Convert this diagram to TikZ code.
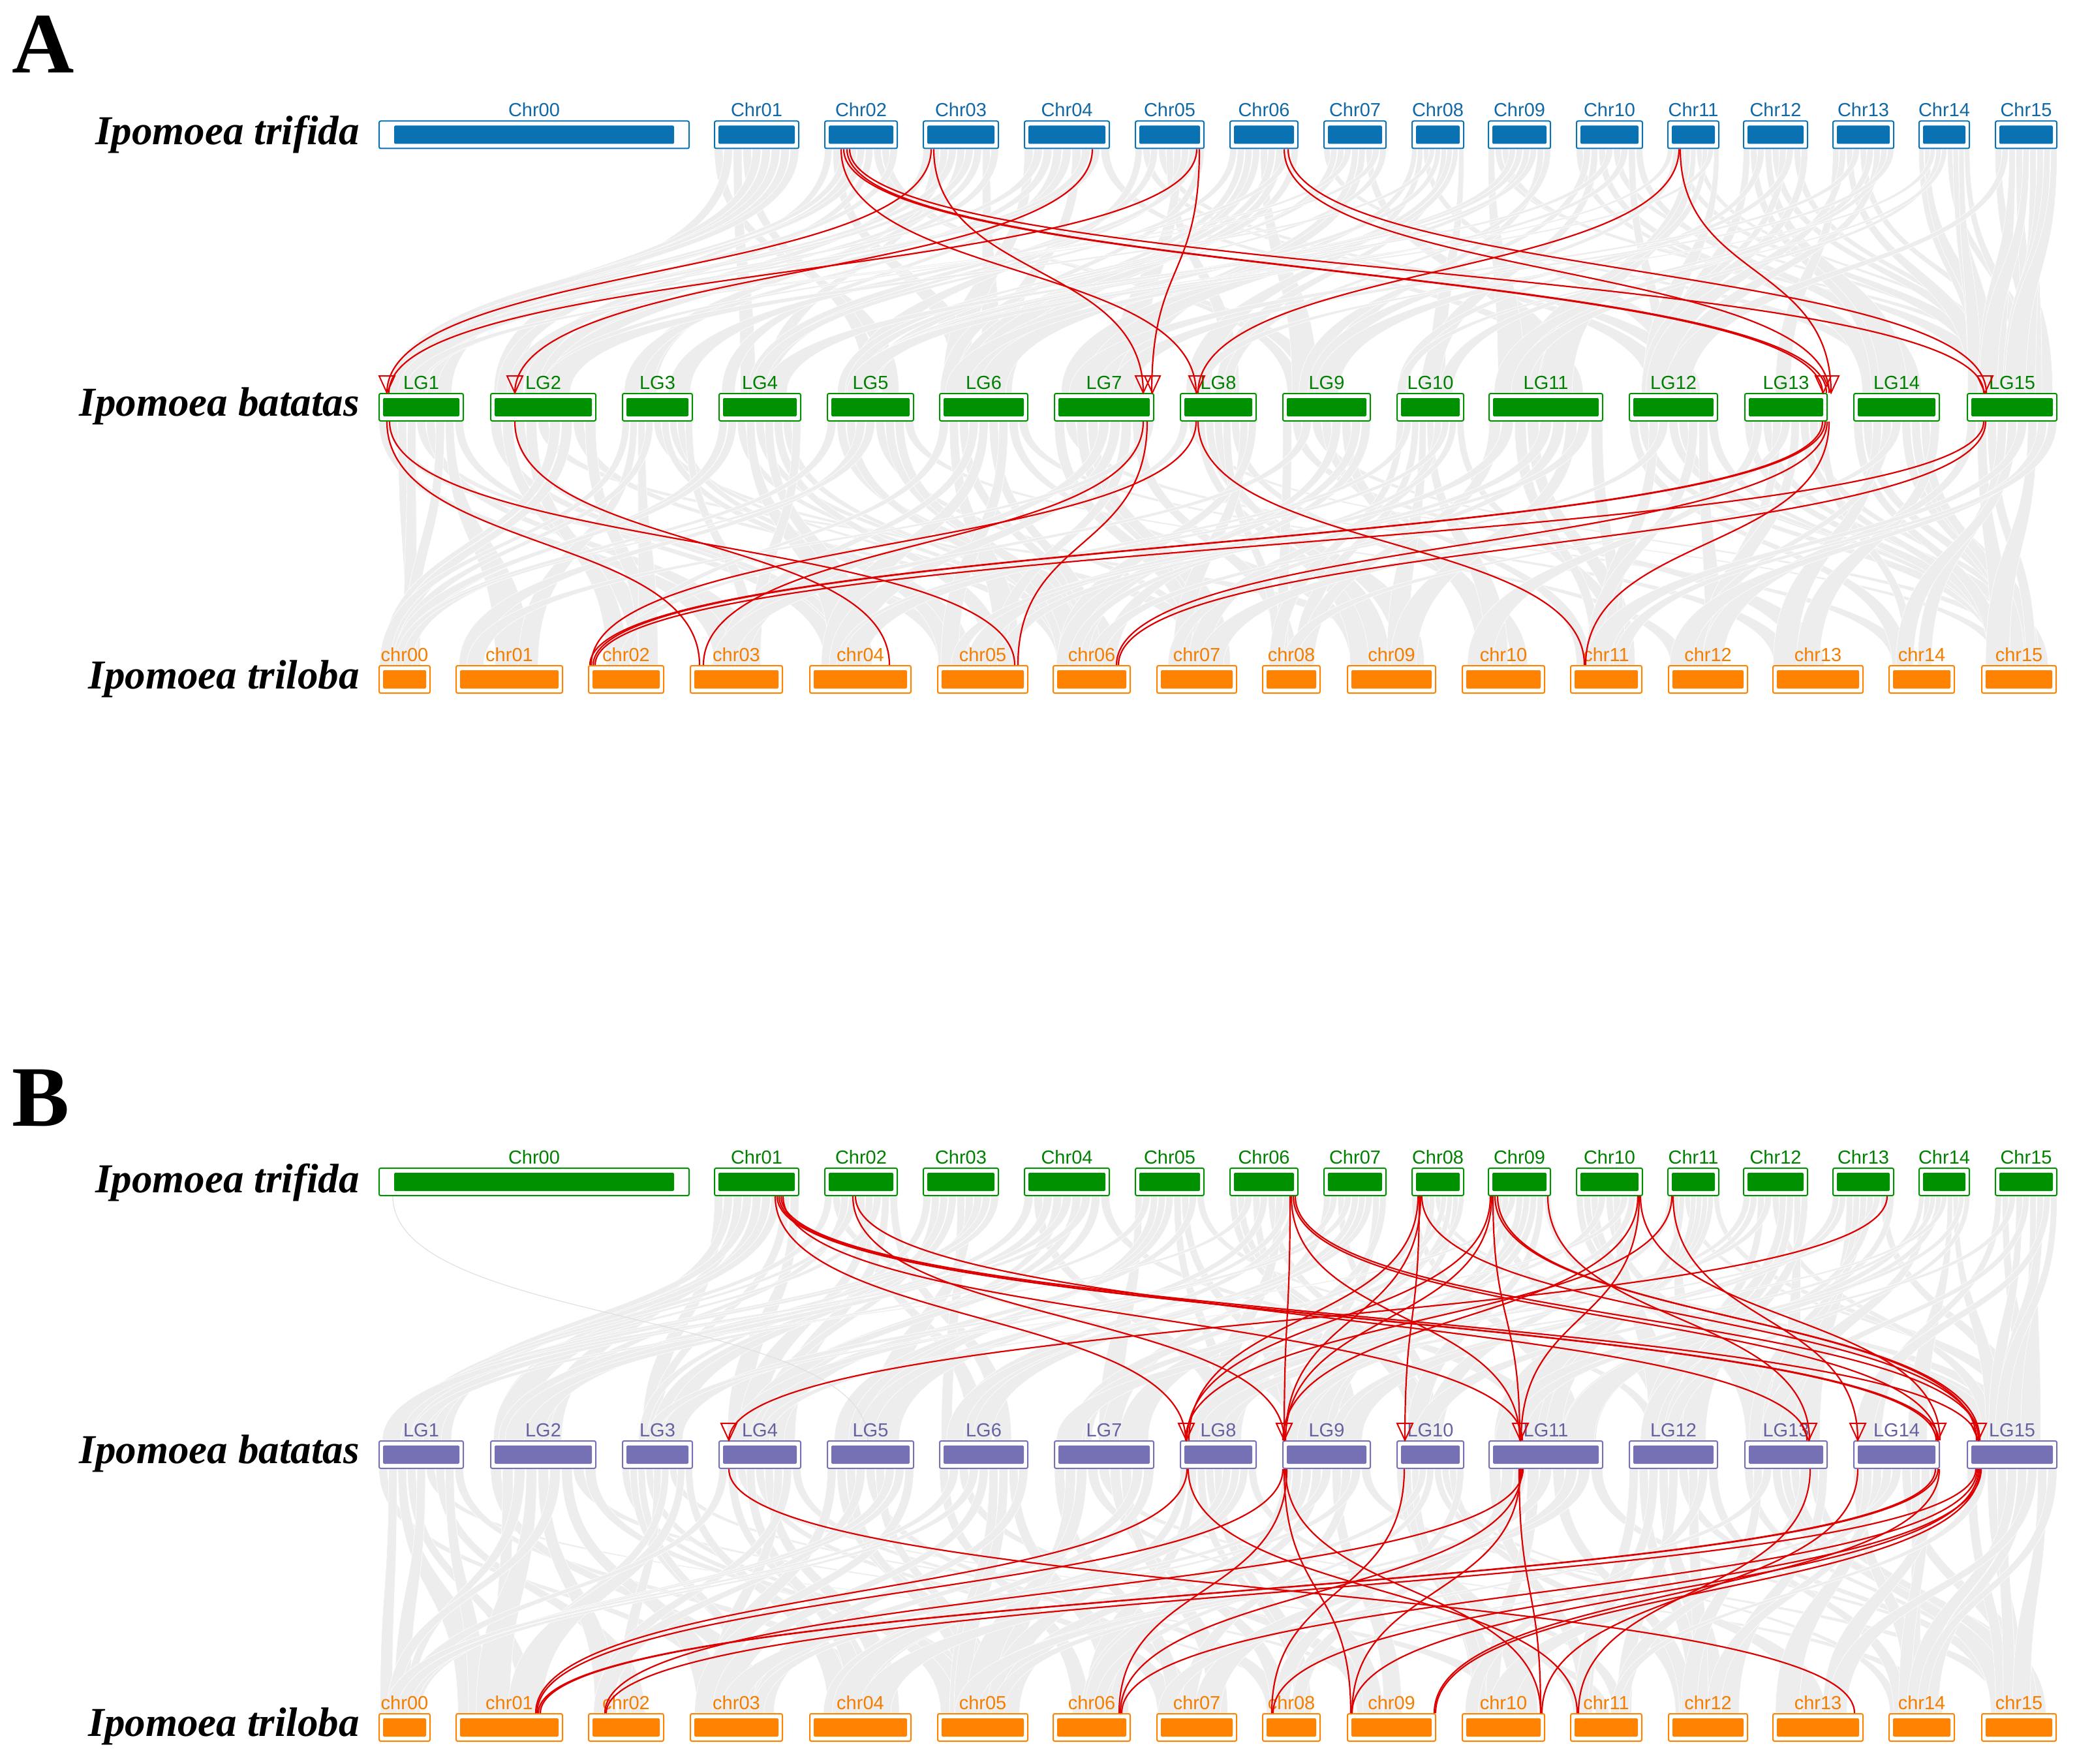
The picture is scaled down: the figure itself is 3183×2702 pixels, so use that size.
\documentclass[tikz,border=0pt]{standalone}
\usepackage{fontspec}
\setmainfont{Liberation Serif}
\newfontfamily\lblfont{Liberation Sans}
\usetikzlibrary{calc}
\pgfdeclarelayer{bg}
\pgfsetlayers{bg,main}
\definecolor{cblue}{RGB}{10,114,178}
\definecolor{cbluel}{RGB}{16,104,165}
\definecolor{cgreen}{RGB}{0,145,0}
\definecolor{cgreenl}{RGB}{0,128,0}
\definecolor{corange}{RGB}{255,130,0}
\definecolor{corangel}{RGB}{245,125,0}
\definecolor{cpurple}{RGB}{118,112,180}
\definecolor{cpurplel}{RGB}{100,98,160}
\definecolor{cred}{RGB}{222,0,0}
\definecolor{cgray}{RGB}{237,237,237}
\tikzset{
 chrbox/.style={draw=#1, fill=white, line width=1pt, minimum height=21pt, inner sep=0pt, rounded corners=1.2pt},
 lbl/.style={font=\lblfont\fontsize{14.5}{14.5}\selectfont, inner sep=0pt},
 species/.style={font=\fontsize{31.5}{31.5}\selectfont\bfseries\itshape, inner sep=0pt},
 panel/.style={font=\fontsize{66}{66}\selectfont\bfseries, inner sep=0pt},
 redlink/.style={draw=cred, line width=1.1pt},
 redtri/.style={draw=cred, line width=1pt, line join=miter},
 gribbon/.style={fill=cgray, draw=white, line width=0.3pt},
}
\def\trifidalist{0/581/1056/Chr00/24, 1/1095/1224/Chr01/7, 2/1264/1375/Chr02/7, 3/1415/1530/Chr03/7, 4/1570/1700/Chr04/7, 5/1740/1845/Chr05/7, 6/1885/1989/Chr06/7, 7/2029/2124/Chr07/7, 8/2164/2243/Chr08/7, 9/2281/2376/Chr09/7, 10/2416/2517/Chr10/7, 11/2556/2634/Chr11/7, 12/2672/2770/Chr12/7, 13/2809/2902/Chr13/7, 14/2941/3018/Chr14/7, 15/3058/3152/Chr15/7}
\def\batataslist{1/581/710/LG1/7, 2/752/913/LG2/7, 3/954/1061/LG3/7, 4/1102/1227/LG4/7, 5/1268/1400/LG5/7, 6/1440/1575/LG6/7, 7/1616/1768/LG7/7, 8/1809/1925/LG8/7, 9/1966/2100/LG9/7, 10/2141/2243/LG10/7, 11/2282/2456/LG11/7, 12/2497/2632/LG12/7, 13/2674/2800/LG13/7, 14/2841/2972/LG14/7, 15/3015/3152/LG15/7}
\def\trilobalist{0/581/659/chr00/7, 1/699/862/chr01/7, 2/902/1017/chr02/7, 3/1058/1199/chr03/7, 4/1241/1396/chr04/7, 5/1437/1575/chr05/7, 6/1614/1732/chr06/7, 7/1773/1895/chr07/7, 8/1935/2023/chr08/7, 9/2065/2200/chr09/7, 10/2241/2367/chr10/7, 11/2407/2516/chr11/7, 12/2557/2678/chr12/7, 13/2717/2855/chr13/7, 14/2895/2995/chr14/7, 15/3037/3151/chr15/7}
% row of chromosome boxes: prefix, y centre, box colour, label colour, list
\newcommand\chrrow[5]{%
 \foreach \ci/\xa/\xb/\nm/\ins in #5{%
  \node[chrbox=#3, minimum width={(\xb-\xa)*0.5pt}] (#1\ci) at ({(\xa+\xb)/2},#2) {};
  \fill[#3, rounded corners=0.8pt] ($(#1\ci.north west)+(\ins,8)$) rectangle ($(#1\ci.south east)+(-\ins,-8)$);
  \node[lbl, text=#4, anchor=base] (#1\ci lab) at ($(#1\ci.north)+(0,-6)$) {\nm};
 }%
}
% grey synteny ribbon
\newcommand\ribbon[6]{%
 \path[gribbon] ($(#1.south west)!#2!(#1.south east)$) .. controls +(0,200) and +(0,-200) .. ($(#4.north west)!#5!(#4.north east)$) -- ($(#4.north west)!#6!(#4.north east)$) .. controls +(0,-200) and +(0,200) .. ($(#1.south west)!#3!(#1.south east)$) -- cycle;}
\newcommand\gsec[4]{%
 \pgfmathsetseed{#4}%
 \foreach \k in {1,...,15}{%
  \foreach \s in {0,...,8}{%
   \pgfmathsetmacro\fa{\s/9+0.006}%
   \pgfmathsetmacro\fb{(\s+1)/9-0.006}%
   \pgfmathrandominteger{\rv}{0}{13}%
   \pgfmathtruncatemacro\tg{\k+(\rv==0)*(-3)+(\rv==1)*(-1)+(\rv==2)*1+(\rv==3)*4+(\rv==4)*(-6)+(\rv==5)*2+(\rv==6)*(-2)+(\rv==7)*7+(\rv==8)*(-4)+(\rv==9)*3+(\rv==10)*(-1)}%
   \pgfmathtruncatemacro\tg{max(#3,min(15,\tg))}%
   \pgfmathsetmacro\ga{0.01+rnd*0.66}%
   \pgfmathsetmacro\gb{\ga+0.12+rnd*0.2}%
   \ribbon{#1\k}{\fa}{\fb}{#2\tg}{\ga}{\gb}%
  }%
 }%
}
% red link: source node, x, target node, x (pixels)
\newcommand\rl[4]{\draw[redlink] let \p1=(#1.south), \p2=(#3.north) in ({#2*0.5pt},\y1) .. controls +(0,200) and +(0,-200) .. ({#4*0.5pt},\y2);}
\newcommand\tri[2]{\draw[redtri] let \p1=(#1.north) in ({#2*0.5pt},\y1) -- ++(-12,-26) -- ++(24,0) -- cycle;}

\begin{document}
\begin{tikzpicture}[x=0.5pt, y=-0.5pt]
\useasboundingbox (0,0) rectangle (3183,2702);

% ---------- Panel A ----------
\node[panel, anchor=base west] (pA) at (18,112) {A};
\node[species, anchor=base east] (sA1) at (551,222) {Ipomoea trifida};
\node[species, anchor=base east] (sA2) at (551,637) {Ipomoea batatas};
\node[species, anchor=base east] (sA3) at (551,1055) {Ipomoea triloba};
\chrrow{At}{206.5}{cblue}{cbluel}{\trifidalist}
\chrrow{Ab}{624}{cgreen}{cgreenl}{\batataslist}
\chrrow{Ac}{1041}{corange}{corangel}{\trilobalist}

% ---------- Panel B ----------
\node[panel, anchor=base west] (pB) at (18,1725) {B};
\node[species, anchor=base east] (sB1) at (551,1827) {Ipomoea trifida};
\node[species, anchor=base east] (sB2) at (551,2242) {Ipomoea batatas};
\node[species, anchor=base east] (sB3) at (551,2660) {Ipomoea triloba};
\chrrow{Bt}{1811}{cgreen}{cgreenl}{\trifidalist}
\chrrow{Bb}{2229}{cpurple}{cpurplel}{\batataslist}
\chrrow{Bc}{2647}{corange}{corangel}{\trilobalist}

\begin{pgfonlayer}{bg}
\gsec{At}{Ab}{1}{11}
\gsec{Ab}{Ac}{0}{23}
\gsec{Bt}{Bb}{1}{37}
\gsec{Bb}{Bc}{0}{51}
\draw[black!12, line width=0.6pt] let \p1=(Bt0.south), \p2=(Bb5.north) in ({602*0.5pt},\y1) .. controls +(0,200) and +(0,-200) .. ({1330*0.5pt},\y2);
\end{pgfonlayer}

% ---------- red links, panel A ----------
\rl{At2}{1289}{Ab8}{1833}
\rl{At2}{1293}{Ab13}{2793}
\rl{At2}{1298}{Ab13}{2799}
\rl{At2}{1302}{Ab15}{3040}
\rl{At3}{1427}{Ab1}{593}
\rl{At3}{1431}{Ab7}{1752}
\rl{At4}{1674}{Ab2}{789}
\rl{At5}{1834}{Ab1}{596}
\rl{At5}{1838}{Ab7}{1765}
\rl{At6}{1968}{Ab13}{2803}
\rl{At6}{1974}{Ab15}{3044}
\rl{At11}{2573}{Ab8}{1836}
\rl{At11}{2575}{Ab13}{2806}
\tri{Ab1}{593}
\tri{Ab2}{789}
\tri{Ab7}{1752}
\tri{Ab7}{1766}
\tri{Ab8}{1834}
\tri{Ab13}{2794}
\tri{Ab13}{2806}
\tri{Ab15}{3042}

\rl{Ab1}{593}{Ac3}{1072}
\rl{Ab1}{597}{Ac5}{1555}
\rl{Ab2}{789}{Ac4}{1363}
\rl{Ab7}{1752}{Ac3}{1078}
\rl{Ab7}{1758}{Ac5}{1560}
\rl{Ab8}{1833}{Ac2}{906}
\rl{Ab8}{1836}{Ac11}{2428}
\rl{Ab13}{2793}{Ac2}{904}
\rl{Ab13}{2797}{Ac2}{909}
\rl{Ab13}{2800}{Ac6}{1711}
\rl{Ab13}{2803}{Ac11}{2430}
\rl{Ab15}{3040}{Ac2}{912}
\rl{Ab15}{3043}{Ac6}{1714}

% ---------- red links, panel B ----------
\rl{Bt1}{1188}{Bb8}{1817}
\rl{Bt1}{1191}{Bb14}{2967}
\rl{Bt1}{1194}{Bb14}{2971}
\rl{Bt1}{1197}{Bb15}{3030}
\rl{Bt1}{1200}{Bb11}{2333}
\rl{Bt2}{1307}{Bb9}{1968}
\rl{Bt2}{1311}{Bb13}{2769}
\rl{Bt6}{1977}{Bb9}{1968}
\rl{Bt6}{1979}{Bb11}{2329}
\rl{Bt6}{1982}{Bb14}{2969}
\rl{Bt6}{1985}{Bb15}{3034}
\rl{Bt8}{2173}{Bb8}{1822}
\rl{Bt8}{2175}{Bb10}{2153}
\rl{Bt8}{2177}{Bb9}{1970}
\rl{Bt8}{2179}{Bb15}{3032}
\rl{Bt9}{2284}{Bb8}{1819}
\rl{Bt9}{2286}{Bb9}{1970}
\rl{Bt9}{2288}{Bb11}{2329}
\rl{Bt9}{2291}{Bb15}{3034}
\rl{Bt9}{2295}{Bb15}{3029}
\rl{Bt9}{2372}{Bb13}{2773}
\rl{Bt10}{2510}{Bb9}{1966}
\rl{Bt10}{2512}{Bb11}{2331}
\rl{Bt10}{2514}{Bb14}{2973}
\rl{Bt11}{2562}{Bb8}{1817}
\rl{Bt11}{2564}{Bb14}{2847}
\rl{Bt13}{2892}{Bb4}{1117}
\tri{Bb4}{1117}
\tri{Bb8}{1818}
\tri{Bb9}{1968}
\tri{Bb10}{2153}
\tri{Bb11}{2330}
\tri{Bb13}{2772}
\tri{Bb14}{2847}
\tri{Bb14}{2970}
\tri{Bb15}{3032}

\rl{Bb4}{1117}{Bc13}{2842}
\rl{Bb8}{1819}{Bc1}{821}
\rl{Bb8}{1821}{Bc11}{2417}
\rl{Bb9}{1966}{Bc1}{823}
\rl{Bb9}{1968}{Bc9}{2070}
\rl{Bb9}{1970}{Bc10}{2361}
\rl{Bb9}{1972}{Bc6}{1715}
\rl{Bb10}{2152}{Bc8}{1949}
\rl{Bb11}{2328}{Bc10}{2361}
\rl{Bb11}{2330}{Bc9}{2072}
\rl{Bb11}{2332}{Bc6}{1717}
\rl{Bb11}{2334}{Bc2}{927}
\rl{Bb13}{2774}{Bc11}{2419}
\rl{Bb14}{2847}{Bc10}{2363}
\rl{Bb14}{2966}{Bc1}{825}
\rl{Bb14}{2970}{Bc1}{828}
\rl{Bb14}{2972}{Bc10}{2198}
\rl{Bb15}{3028}{Bc2}{929}
\rl{Bb15}{3030}{Bc6}{1719}
\rl{Bb15}{3032}{Bc9}{2072}
\rl{Bb15}{3034}{Bc10}{2200}
\rl{Bb15}{3036}{Bc8}{1951}
\end{tikzpicture}
\end{document}
